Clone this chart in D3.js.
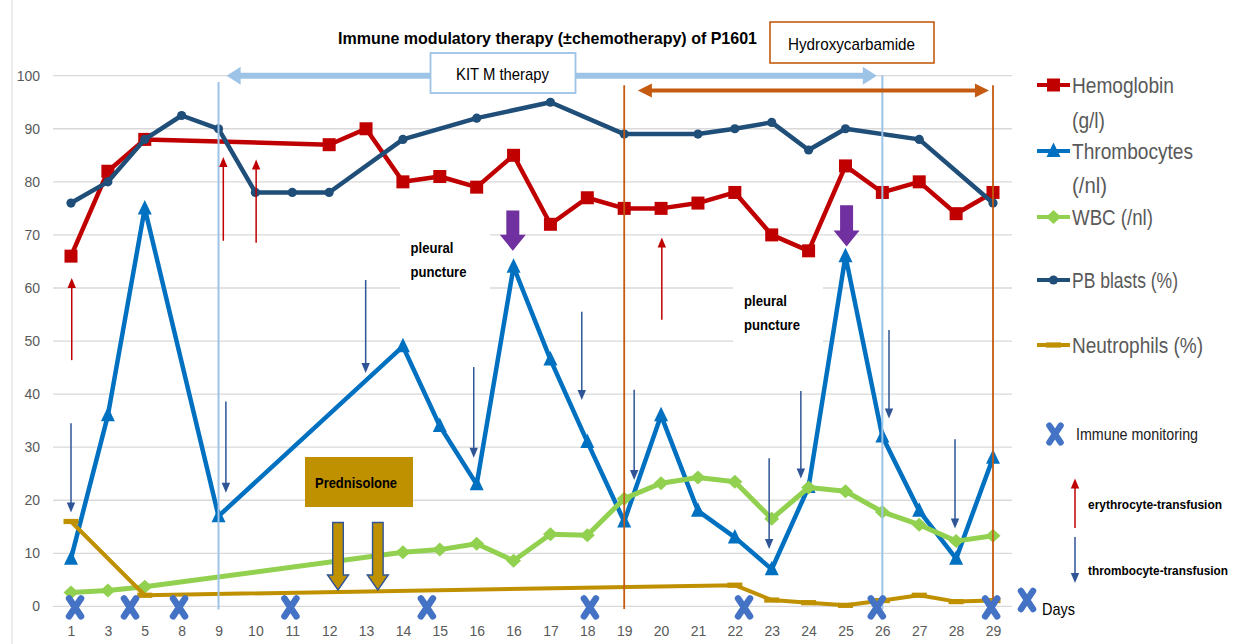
<!DOCTYPE html>
<html><head><meta charset="utf-8">
<script src="https://cdn.jsdelivr.net/npm/d3@7"></script>
<style>
body{margin:0;background:#fff}
svg{display:block}
text{font-family:"Liberation Sans",Arial,sans-serif}
</style>
</head><body>
<svg id="c" width="1236" height="644"></svg>
<script>
// ---------- data ----------
const labels = ['1','3','5','8','9','10','11','12','13','14','15','16','16','17','18','19','20','21','22','23','24','25','26','27','28','29'];
const yTicks = [0,10,20,30,40,50,60,70,80,90,100];
const hemoglobin   = [66,82,88,null,null,null,null,87,90,80,81,79,85,72,77,75,75,76,78,70,67,83,78,80,74,78];
const thrombocytes = [9,36,75,null,17,null,null,null,null,49,34,23,64,46.5,31,16,36,18,13,7,22.5,66,32,18,9,28];
const wbc          = [2.6,3.0,3.7,null,null,null,null,null,null,10.2,10.7,11.8,8.6,13.6,13.4,20.3,23.2,24.3,23.5,16.5,22.4,21.7,17.8,15.4,12.3,13.3];
const pbBlasts     = [76,80,88,92.5,90,78,78,78,null,88,null,92,null,95,null,89,null,89,90,91.2,86,90,null,88,null,76];
const neutrophils  = [16,null,2.1,null,null,null,null,null,null,null,null,null,null,null,null,null,null,null,4.0,1.2,0.7,0.2,1.1,2.1,0.9,1.1];
const seriesNames  = ['Hemoglobin','Thrombocytes','WBC (/nl)','PB blasts (%)','Neutrophils (%)'];

// events (category index, value-from, value-to)
const immuneMonitoring     = [0.11,1.6,2.93,5.95,9.65,14.07,18.25,21.85,24.95];
const erythroTransfusions  = [[0.02,46.4,61.9],[4.13,68.9,84.7],[5.02,68.5,84.2],[16.02,54,69.5]];
const thromboTransfusions  = [[0,34.5,17.7],[4.2,38.6,21.4],[7.99,61.5,44],[10.92,45.1,28],[13.85,55.5,38.9],[15.27,40.8,23.8],[18.93,27.9,10.8],[19.79,40.6,24.1],[22.18,52.1,35.4],[23.97,31.5,14.7]];
const pleuralPunctures     = [[11.98,74.6,67.0],[21.03,75.6,67.8]];
const prednisoloneDoses    = [7.24,8.32];
const kitMPeriod           = [4,22];
const hydroxyPeriod        = [15,25];

// ---------- setup ----------
const svg = d3.select('#c');
const x = d3.scaleLinear().domain([0,25]).range([71,993]);
const y = d3.scaleLinear().domain([0,100]).range([606.4,75.7]);
const FONT = '"Liberation Sans",Arial,sans-serif';

function txt(g, s, px, py, o){
  o = o||{};
  const t = g.append('text').attr('x',px).attr('y',py).text(s)
    .attr('font-size',o.size||14).attr('font-weight',o.weight||'normal')
    .attr('fill',o.fill||'#000').attr('text-anchor',o.anchor||'start')
    .attr('dy',o.dy||'0.35em').attr('font-family',FONT);
  if(o.width){ t.attr('textLength',o.width).attr('lengthAdjust','spacingAndGlyphs'); }
  return t;
}

// frame line
svg.append('line').attr('x1',12).attr('x2',12).attr('y1',0).attr('y2',644).attr('stroke','#d9d9d9').attr('stroke-width',1);

// gridlines
svg.append('g').selectAll('line').data(yTicks).join('line')
  .attr('x1',53).attr('x2',1012).attr('y1',d=>y(d)).attr('y2',d=>y(d))
  .attr('stroke','#d9d9d9').attr('stroke-width',1.3);

// axes
const ya = svg.append('g').attr('transform','translate(53,0)')
  .call(d3.axisLeft(y).tickValues(yTicks).tickSize(0).tickPadding(13));
ya.select('.domain').remove();
ya.attr('font-family',FONT).attr('font-size',14);
ya.selectAll('text').attr('fill','#595959');

const xa = svg.append('g').attr('transform',`translate(0,${y(0)})`)
  .call(d3.axisBottom(x).tickValues(d3.range(labels.length)).tickFormat(i=>labels[i]).tickSize(0).tickPadding(20));
xa.select('.domain').remove();
xa.attr('font-family',FONT).attr('font-size',14);
xa.selectAll('text').attr('fill','#595959');

// white boxes behind pleural puncture labels
const ppBoxes = svg.append('g');
[[400,230,90,64],[733,280,90,64]].forEach(b=>{
  ppBoxes.append('rect').attr('x',b[0]).attr('y',b[1]).attr('width',b[2]).attr('height',b[3]).attr('fill','#fff');
});

// ---------- series ----------
const markers = {
  square: g=>g.append('rect').attr('x',-6.5).attr('y',-6.5).attr('width',13).attr('height',13),
  triangle: g=>g.append('path').attr('d','M0,-8.5L7,6L-7,6Z'),
  diamond: g=>g.append('path').attr('d','M0,-7L7.5,0L0,7L-7.5,0Z'),
  circle: g=>g.append('circle').attr('r',4.6),
  dash: g=>g.append('rect').attr('x',-7.5).attr('y',-2.6).attr('width',15).attr('height',5.2)
};
const series = [
  {name:seriesNames[0], values:hemoglobin,   color:'#c00000', width:4.5, marker:'square'},
  {name:seriesNames[1], values:thrombocytes, color:'#0070c0', width:4.5, marker:'triangle'},
  {name:seriesNames[2], values:wbc,          color:'#92d050', width:5,   marker:'diamond'},
  {name:seriesNames[3], values:pbBlasts,     color:'#1f4e79', width:4.5, marker:'circle'},
  {name:seriesNames[4], values:neutrophils,  color:'#bf9000', width:4,   marker:'dash'}
];
const line = d3.line().x(d=>x(d.i)).y(d=>y(d.v));
series.forEach(s=>{
  const pts = s.values.map((v,i)=>({i,v})).filter(d=>d.v!=null);
  const g = svg.append('g');
  g.append('path').attr('d',line(pts)).attr('fill','none').attr('stroke',s.color)
    .attr('stroke-width',s.width).attr('stroke-linejoin','round');
  pts.forEach(d=>{
    const mg = g.append('g').attr('transform',`translate(${x(d.i)},${y(d.v)})`).attr('fill',s.color);
    markers[s.marker](mg);
  });
});

// ---------- annotations ----------
const ann = svg.append('g');

// vertical period lines
kitMPeriod.forEach((i,k)=>{
  ann.append('line').attr('x1',x(i)).attr('x2',x(i)).attr('y1',k===0?y(98.8):y(100.1)).attr('y2',y(-0.6))
    .attr('stroke','#9dc3e6').attr('stroke-width',2);
});
hydroxyPeriod.forEach(i=>{
  ann.append('line').attr('x1',x(i)).attr('x2',x(i)).attr('y1',y(98.2)).attr('y2',y(-0.5))
    .attr('stroke','#c55a11').attr('stroke-width',1.8);
});

// double-headed horizontal arrows
function hArrow(x1,x2,yy,color,sw,hl,hh){
  ann.append('line').attr('x1',x1+hl-1).attr('x2',x2-hl+1).attr('y1',yy).attr('y2',yy)
    .attr('stroke',color).attr('stroke-width',sw);
  ann.append('path').attr('d',`M${x1},${yy}L${x1+hl},${yy-hh}L${x1+hl},${yy+hh}Z`).attr('fill',color);
  ann.append('path').attr('d',`M${x2},${yy}L${x2-hl},${yy-hh}L${x2-hl},${yy+hh}Z`).attr('fill',color);
}
hArrow(x(4.22),x(21.85),y(100),'#9dc3e6',6,14,9);
hArrow(x(15.37),x(24.89),y(97.2),'#c55a11',4,14,7);

// thin vertical arrows
function thinArrow(px,ya_,yb_,color){
  const dir = yb_>ya_?1:-1;
  const hl = 10, hw = 4.2;
  ann.append('line').attr('x1',px).attr('x2',px).attr('y1',ya_).attr('y2',yb_-dir*hl+dir)
    .attr('stroke',color).attr('stroke-width',1.5);
  ann.append('path').attr('d',`M${px},${yb_}L${px-hw},${yb_-dir*hl}L${px+hw},${yb_-dir*hl}Z`).attr('fill',color);
}
erythroTransfusions.forEach(d=>thinArrow(x(d[0]),y(d[1]),y(d[2]),'#c00000'));
thromboTransfusions.forEach(d=>thinArrow(x(d[0]),y(d[1]),y(d[2]),'#2f5597'));

// block down arrows
function blockArrow(cx,top,tip,sw,hw,hl,fill,stroke){
  const hs = tip-hl;
  ann.append('path').attr('d',`M${cx-sw},${top}L${cx+sw},${top}L${cx+sw},${hs}L${cx+hw},${hs}L${cx},${tip}L${cx-hw},${hs}L${cx-sw},${hs}Z`)
    .attr('fill',fill).attr('stroke',stroke||'none').attr('stroke-width',stroke?1.4:0);
}
pleuralPunctures.forEach(d=>blockArrow(x(d[0]),y(d[1]),y(d[2]),6.5,13,16,'#7030a0'));
prednisoloneDoses.forEach(i=>blockArrow(x(i),522.5,590,5.3,10.5,15,'#bf9000','#2f5597'));

// Prednisolone box
ann.append('rect').attr('x',305).attr('y',457).attr('width',108).attr('height',50).attr('fill','#bf9000');
txt(ann,'Prednisolone',356,482.5,{size:15.5,weight:'bold',anchor:'middle',width:82});

// pleural puncture labels
[[410.5,248,272],[744,301,325]].forEach(p=>{
  txt(ann,'pleural',p[0],p[1],{size:15,weight:'bold',width:43});
  txt(ann,'puncture',p[0],p[2],{size:15,weight:'bold',width:56});
});

// KIT M therapy box
ann.append('rect').attr('x',430.5).attr('y',53).attr('width',145).attr('height',40).attr('fill','#fff')
  .attr('stroke','#9dc3e6').attr('stroke-width',1.8);
txt(ann,'KIT M therapy',502.5,74,{size:17,anchor:'middle',width:93});

// Hydroxycarbamide box
ann.append('rect').attr('x',770).attr('y',22).attr('width',164).attr('height',41).attr('fill','#fff')
  .attr('stroke','#c55a11').attr('stroke-width',1.6);
txt(ann,'Hydroxycarbamide',851.5,44,{size:17,anchor:'middle',width:127});

// title
txt(svg,'Immune modulatory therapy (±chemotherapy) of P1601',547.5,38,{size:17,weight:'bold',anchor:'middle',width:419});

// immune monitoring crosses
function cross(g,px,py,s){
  s = s||1;
  g.append('path').attr('d',`M${px-6*s},${py-9*s}L${px+6*s},${py+9*s}M${px-6*s},${py+9*s}L${px+6*s},${py-9*s}`)
    .attr('stroke','#4472c4').attr('stroke-width',6.5*s).attr('stroke-linecap','round').attr('fill','none');
}
const crosses = svg.append('g');
immuneMonitoring.forEach(i=>cross(crosses,x(i),y(0)+1));

// ---------- legend ----------
const lg = svg.append('g');
const legendRows = [85,151,217,280,345];
series.forEach((s,k)=>{
  const yy = legendRows[k];
  lg.append('line').attr('x1',1037).attr('x2',1070).attr('y1',yy).attr('y2',yy).attr('stroke',s.color).attr('stroke-width',4);
  const mg = lg.append('g').attr('transform',`translate(1053.5,${yy})`).attr('fill',s.color);
  markers[s.marker](mg);
});
const LC = '#595959';
txt(lg,'Hemoglobin',1072,85,{size:22,fill:LC,width:102});
txt(lg,'(g/l)',1072,120,{size:22,fill:LC,width:33});
txt(lg,'Thrombocytes',1072,151,{size:22,fill:LC,width:121});
txt(lg,'(/nl)',1072,185,{size:22,fill:LC,width:35});
txt(lg,seriesNames[2],1072,217,{size:22,fill:LC,width:81});
txt(lg,seriesNames[3],1072,280,{size:22,fill:LC,width:106});
txt(lg,seriesNames[4],1072,345,{size:22,fill:LC,width:131});

cross(lg,1055,434,0.95);
txt(lg,'Immune monitoring',1076,434,{size:17,fill:'#222',width:122});

thinArrow(1075,528,478.5,'#c00000');
txt(lg,'erythrocyte-transfusion',1088,505,{size:12,weight:'bold',width:134});
thinArrow(1075,537,583,'#2f5597');
txt(lg,'thrombocyte-transfusion',1088,571,{size:12,weight:'bold',width:140});

cross(lg,1027,600);
txt(lg,'Days',1042,609,{size:17,fill:'#000',width:33});
</script>
</body></html>
